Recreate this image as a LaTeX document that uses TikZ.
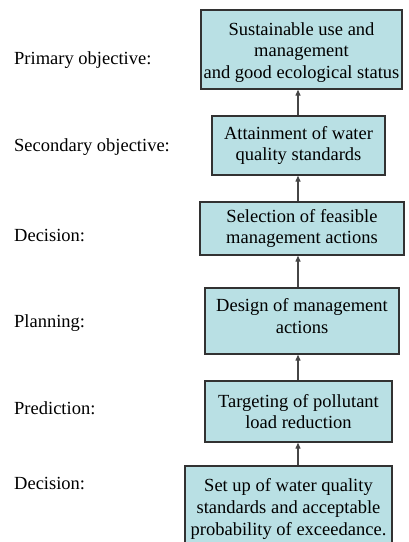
\documentclass[tikz,border=0pt]{standalone}
\usepackage{fontspec}
\setmainfont{Liberation Serif}
\usetikzlibrary{arrows.meta}
\definecolor{boxfill}{RGB}{185,224,228}
\definecolor{boxline}{RGB}{50,50,50}
\definecolor{arrline}{RGB}{70,70,70}
\begin{document}
\begin{tikzpicture}[x=1pt,y=-1pt,
  stagebox/.style={draw=boxline,fill=boxfill,line width=1.3pt,inner sep=0pt,align=center,
    font=\fontsize{18.5}{21.7}\selectfont},
  stagelabel/.style={anchor=base west,inner sep=0pt,font=\fontsize{18.5}{21.7}\selectfont},
  uparrow/.style={draw=arrline,line width=1.2pt,-{Triangle[length=6pt,width=5pt]}}]
\useasboundingbox[fill=white] (0,0) rectangle (408,542);
\begin{scope}
\clip (0,0) rectangle (408,542);
\node[stagebox,minimum width=201pt,minimum height=79pt,text height=62pt] (b1) at (301.5,49.5)
  {Sustainable use and\\management\\and good ecological status};
\node[stagebox,minimum width=173pt,minimum height=59pt] (b2) at (298.5,145.5)
  {Attainment of water\\quality standards};
\node[stagebox,minimum width=204pt,minimum height=53pt] (b3) at (302,228.5)
  {Selection of feasible\\management actions};
\node[stagebox,minimum width=194pt,minimum height=66pt,text depth=10pt] (b4) at (302,321)
  {Design of management\\actions};
\node[stagebox,minimum width=187pt,minimum height=61pt] (b5) at (298.5,411.5)
  {Targeting of pollutant\\load reduction};
\node[stagebox,minimum width=207pt,minimum height=94pt,text depth=12pt] (b6) at (288.5,513)
  {Set up of water quality\\standards and acceptable\\probability of exceedance.};
\end{scope}
\coordinate (ax) at (298,0);
\draw[uparrow] (b2.north -| ax) -- (b1.south -| ax);
\draw[uparrow] (b3.north -| ax) -- (b2.south -| ax);
\draw[uparrow] (b4.north -| ax) -- (b3.south -| ax);
\draw[uparrow] (b5.north -| ax) -- (b4.south -| ax);
\draw[uparrow] (b6.north -| ax) -- (b5.south -| ax);
\node[stagelabel] (l1) at (14,64) {Primary objective:};
\node[stagelabel] (l2) at (14,151) {Secondary objective:};
\node[stagelabel] (l3) at (14,241) {Decision:};
\node[stagelabel] (l4) at (14,327) {Planning:};
\node[stagelabel] (l5) at (14,414) {Prediction:};
\node[stagelabel] (l6) at (14,489) {Decision:};
\end{tikzpicture}
\end{document}
